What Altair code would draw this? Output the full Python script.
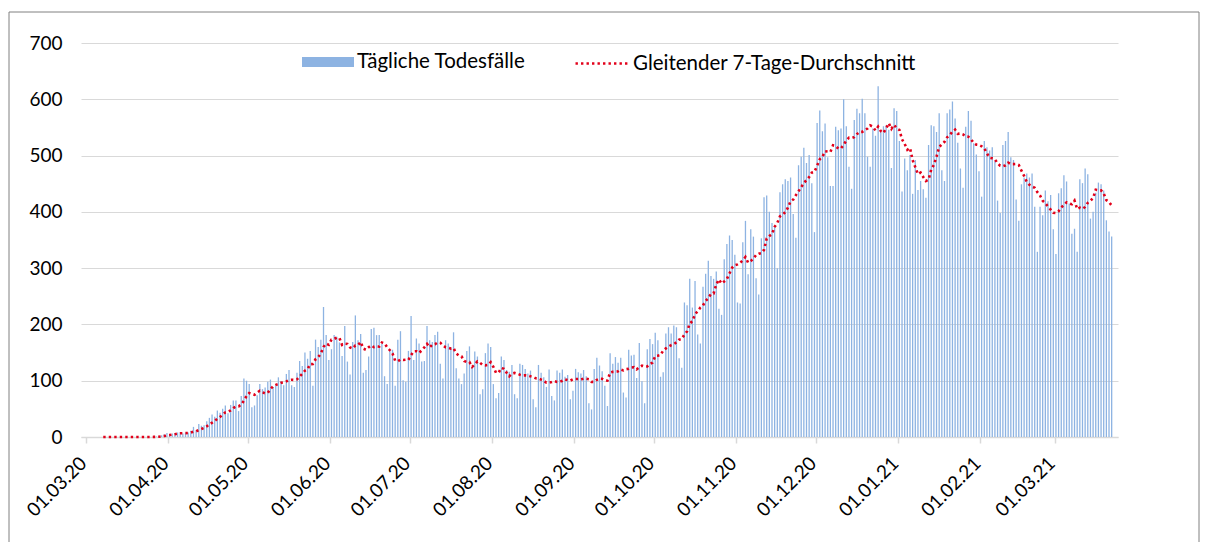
import altair as alt
import pandas as pd

# Daily deaths, one list per month (01.03.20 - 22.03.21)
mar20 = [0] * 25 + [1, 1, 2, 3, 5, 7]
apr20 = [5, 6, 7, 8, 8, 6, 8, 8, 11, 18, 12, 23, 20, 21, 28, 34, 40, 36, 47, 43,
         50, 56, 42, 57, 65, 65, 46, 73, 104, 100]
may20 = [94, 53, 56, 74, 94, 85, 88, 98, 102, 89, 92, 106, 99, 92, 112, 119, 92, 89,
         114, 135, 126, 150, 139, 153, 91, 173, 160, 173, 231, 181, 137]
jun20 = [156, 181, 178, 168, 144, 197, 134, 111, 169, 216, 172, 183, 114, 119, 143,
         192, 194, 181, 181, 166, 108, 94, 155, 155, 91, 173, 188, 101, 98, 153]
jul20 = [215, 137, 175, 166, 134, 135, 197, 172, 169, 181, 187, 130, 104, 172, 166,
         160, 186, 122, 104, 94, 113, 153, 161, 125, 152, 143, 76, 85, 149, 166, 160]
aug20 = [94, 69, 78, 143, 137, 119, 116, 128, 76, 69, 130, 128, 121, 113, 118, 67, 53,
         128, 114, 106, 89, 120, 73, 65, 118, 114, 120, 107, 110, 67, 82]
sep20 = [121, 115, 113, 119, 108, 60, 49, 121, 141, 127, 117, 91, 55, 149, 130, 142,
         132, 141, 79, 70, 155, 145, 146, 105, 167, 99, 60, 156, 174, 165]
oct20 = [185, 172, 107, 115, 184, 195, 184, 198, 195, 140, 123, 239, 234, 281, 230,
         277, 182, 166, 267, 290, 313, 286, 281, 294, 228, 217, 316, 343, 358, 350, 324]
nov20 = [239, 237, 346, 384, 289, 369, 356, 282, 253, 353, 426, 429, 400, 380, 374,
         300, 435, 449, 458, 455, 461, 396, 354, 483, 498, 514, 487, 501, 451, 364]
dec20 = [558, 580, 543, 557, 497, 446, 446, 551, 545, 548, 600, 552, 480, 441, 563,
         583, 575, 601, 575, 498, 480, 548, 535, 623, 545, 552, 554, 546, 478, 584, 579]
jan21 = [526, 436, 495, 474, 501, 432, 492, 439, 455, 440, 425, 519, 554, 552, 542,
         575, 474, 455, 575, 582, 596, 566, 523, 477, 443, 551, 579, 562, 522, 502, 472]
feb21 = [427, 526, 515, 509, 515, 491, 420, 398, 519, 526, 542, 497, 492, 422, 384,
         449, 461, 468, 461, 468, 409, 329, 409, 394, 438, 419, 430, 369]
mar21 = [325, 433, 442, 465, 454, 415, 361, 370, 329, 458, 451, 477, 467, 388, 400,
         434, 452, 449, 438, 385, 365, 356]

daily = mar20 + apr20 + may20 + jun20 + jul20 + aug20 + sep20 + oct20 + nov20 + dec20 + jan21 + feb21 + mar21

series_bar = "Tägliche Todesfälle"
series_line = "Gleitender 7-Tage-Durchschnitt"
month_ticks = [(2020, m) for m in range(3, 13)] + [(2021, m) for m in range(1, 4)]

start = pd.Timestamp("2020-03-01")
dates = [(start + pd.Timedelta(days=i)).strftime("%Y-%m-%d") for i in range(len(daily))]
df = pd.DataFrame({"date": dates, "deaths": daily, "s1": series_bar, "s2": series_line})

FONT = "Lato"
BLUE = "#8db3e2"
RED = "#e2001a"
GRID = "#d9d9d9"

x_scale = alt.Scale(
    type="utc",
    domain=[alt.DateTime(year=2020, month=3, date=1, utc=True),
            alt.DateTime(year=2021, month=3, date=23, utc=True)],
)
x_axis = alt.Axis(
    values=[alt.DateTime(year=y, month=m, date=1, utc=True) for y, m in month_ticks],
    labelExpr="utcFormat(datum.value, '%d.%m.%y')", labelAngle=-45, labelAlign="right",
    labelBaseline="middle", labelPadding=17, labelOffset=-3, labelFlush=False,
    labelOverlap=False, grid=False, domainColor=GRID, domainWidth=1.5, tickColor=GRID,
    tickWidth=1.5, tickSize=6, title=None,
)
y_scale = alt.Scale(domain=[0, 700], nice=False)
y_axis = alt.Axis(values=list(range(0, 800, 100)), grid=True, gridColor=GRID,
                  gridWidth=1, domain=False, ticks=False, labelPadding=19, title=None)

base = alt.Chart(df).transform_calculate(t="toDate(datum.date) + 43200000")

bars = base.mark_bar(width=1.3).encode(
    x=alt.X("t:T", scale=x_scale, axis=x_axis),
    y=alt.Y("deaths:Q", scale=y_scale, axis=y_axis),
    fill=alt.Fill("s1:N", scale=alt.Scale(range=[BLUE]),
                  legend=alt.Legend(title=None, orient="none", legendX=221, legendY=-7,
                                    symbolType="M-1,-0.19H1V0.19H-1Z", symbolSize=2704,
                                    symbolStrokeWidth=0, labelOffset=3, labelLimit=0)),
)

line = base.transform_window(
    ma="mean(deaths)", idx="row_number()", frame=[-6, 0]
).transform_filter("datum.idx >= 7").mark_line(
    strokeWidth=2.6, strokeDash=[2.4, 3.1]
).encode(
    x=alt.X("t:T", scale=x_scale, axis=x_axis),
    y=alt.Y("ma:Q", scale=y_scale, axis=y_axis),
    stroke=alt.Stroke("s2:N", scale=alt.Scale(range=[RED]),
                      legend=alt.Legend(title=None, orient="none", legendX=493, legendY=-7,
                                        symbolType="stroke", symbolSize=2704,
                                        symbolStrokeWidth=2.6, symbolDash=[2.4, 3.1],
                                        labelOffset=4, labelLimit=0)),
)

frame = alt.Chart(pd.DataFrame({"k": [0]})).mark_rect(
    filled=False, stroke="#808080", strokeWidth=1
).encode(x=alt.value(-72), x2=alt.value(1118), y=alt.value(-31), y2=alt.value(530))

chart = alt.layer(frame, bars, line).properties(
    width=1037, height=394,
    autosize=alt.AutoSizeParams(type="none"),
    padding={"left": 73, "top": 35, "right": 82, "bottom": 105},
).configure_view(stroke="transparent").configure_axis(
    labelFont=FONT, labelFontSize=19, labelColor="#000000"
).configure_legend(
    labelFont=FONT, labelFontSize=20.5, labelColor="#000000"
)

chart.save("out.html", embed_options={"renderer": "svg", "actions": False})
